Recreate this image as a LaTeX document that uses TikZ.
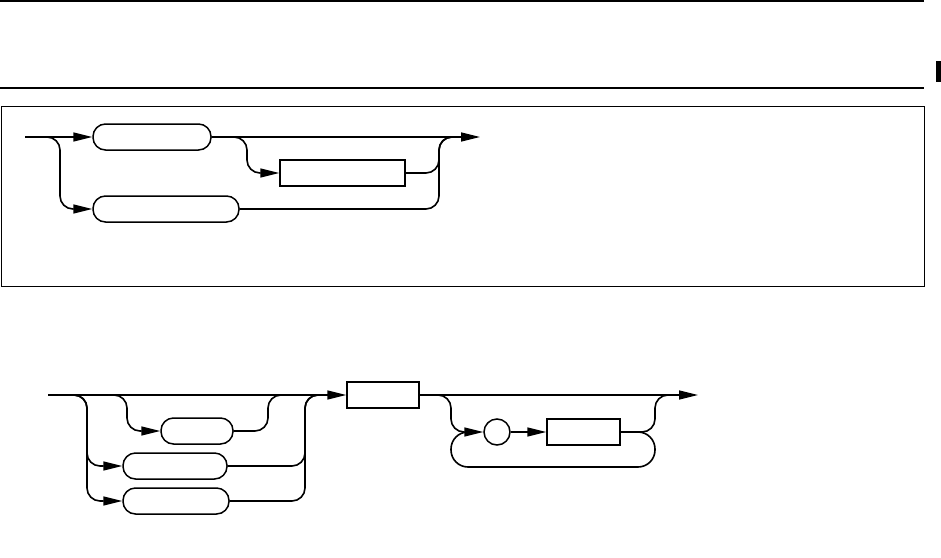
\documentclass[tikz,border=0pt]{standalone}
\usetikzlibrary{arrows.meta}
\begin{document}
\begin{tikzpicture}[x=1pt,y=-1pt,
  conn/.style={line width=1.6pt, rounded corners=13pt},
  arr/.style={-{Triangle[length=19pt,width=9pt]}},
  rbox/.style={draw, line width=1.5pt, rounded corners=12.5pt, minimum height=26pt, inner sep=0pt},
  sbox/.style={draw, line width=1.5pt, minimum height=26pt, inner sep=0pt},
  cbox/.style={draw, line width=1.5pt, circle, minimum size=26pt, inner sep=0pt}]
\useasboundingbox (0,0) rectangle (941,557);
% header rules and frame
\draw[line width=1.2pt] (0,1) -- (924,1);
\draw[line width=1.2pt] (0,88) -- (924,88);
\draw[line width=1pt] (1,106) rectangle (924,286);
\fill[black] (936,61) rectangle (941,82);
% ---- top diagram ----
\coordinate (s1) at (25,137);
\coordinate (e1) at (480,137);
\node[rbox, minimum width=118pt] (A) at (152,137) {};
\node[rbox, minimum width=146pt] (B) at (166,209) {};
\node[sbox, minimum width=125pt] (C) at (342.5,173) {};
\draw[conn, arr] (s1) -- (A.west);
\draw[conn, arr] (s1) -- (60,137) -- (60,209) -- (B.west);
\draw[conn, arr] (A.east) -- (e1);
\draw[conn, arr] (A.east) -- (247,137) -- (247,173) -- (C.west);
\draw[conn] (C.east) -- (439,173) -- (439,137) -- (462,137);
\draw[conn] (B.east) -- (439,209) -- (439,137) -- (462,137);
% ---- bottom diagram ----
\coordinate (s2) at (48,395);
\coordinate (e2) at (698,395);
\node[rbox, minimum width=72pt] (a) at (197,431) {};
\node[rbox, minimum width=104pt] (b) at (175,466) {};
\node[rbox, minimum width=106pt] (c) at (176,501) {};
\node[sbox, minimum width=72pt] (D) at (383,395) {};
\node[cbox] (O) at (497,432) {};
\node[sbox, minimum width=73pt] (E) at (583.5,432) {};
\draw[conn, arr] (s2) -- (D.west);
\draw[conn, arr] (s2) -- (127,395) -- (127,431) -- (a.west);
\draw[conn, arr] (s2) -- (87,395) -- (87,466) -- (b.west);
\draw[conn, arr] (s2) -- (87,395) -- (87,501) -- (c.west);
\draw[conn] (a.east) -- (268,431) -- (268,395) -- (290,395);
\draw[conn] (b.east) -- (305,466) -- (305,395) -- (325,395);
\draw[conn] (c.east) -- (305,501) -- (305,395) -- (325,395);
\draw[conn, arr] (D.east) -- (e2);
\draw[conn, arr] (D.east) -- (451,395) -- (451,432) -- (O.west);
\draw[conn, arr] (O.east) -- (E.west);
\draw[conn] (E.east) -- (655,432) -- (655,395) -- (678,395);
\draw[conn, rounded corners=17pt] (E.east) -- (655,432) -- (655,467) -- (451,467) -- (451,432) -- (470,432);
\end{tikzpicture}
\end{document}
